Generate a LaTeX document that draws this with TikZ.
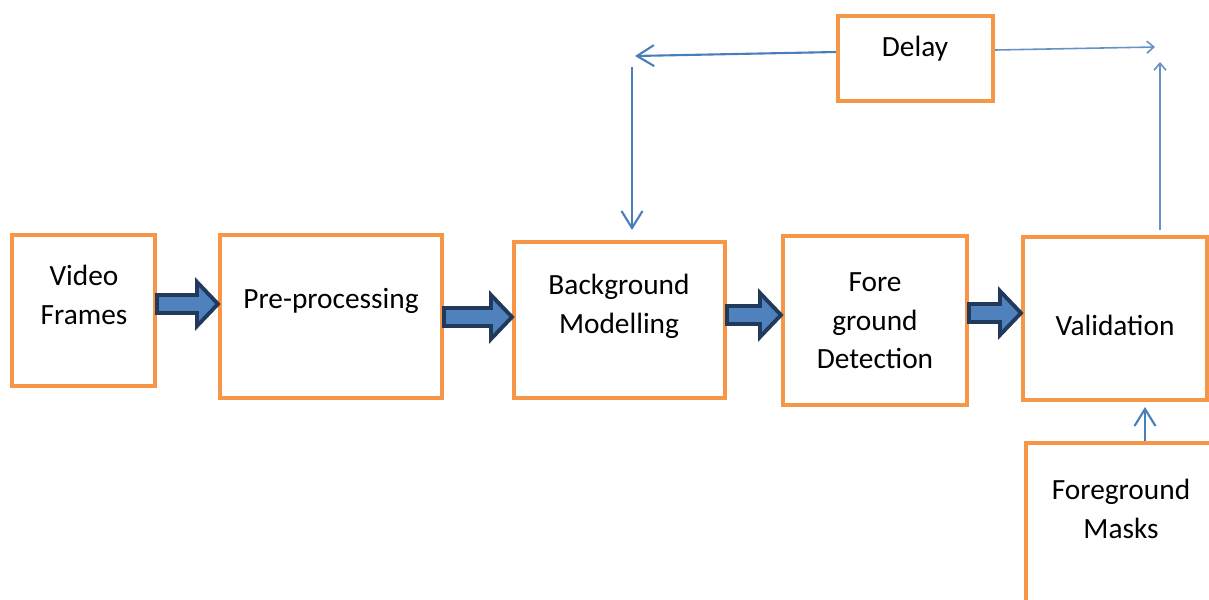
\documentclass[tikz,border=0pt]{standalone}
\usepackage{fontspec}
\setmainfont{Carlito}
\usepackage{xcolor}
\usepackage{tikz}
\usetikzlibrary{arrows.meta,positioning,calc}

\definecolor{boxorange}{HTML}{F79646}
\definecolor{arrowfill}{HTML}{4F81BD}
\definecolor{arrowdark}{HTML}{213A5C}
\definecolor{linkblue}{HTML}{4A7EBB}
\newcommand{\boxfont}{\fontsize{16.7}{22}\selectfont}

\tikzset{
  blockbox/.style={draw=boxorange,line width=2.3pt,inner sep=0pt},
  boxlabel/.style={align=center,font=\boxfont},
  fatarrow/.style={draw=arrowdark,fill=arrowfill,line width=2.2pt,line join=miter},
  thinarrow/.style={draw=linkblue,line width=1.2pt,-{Straight Barb[length=0.34cm,width=0.42cm,line width=1.2pt]}},
  smallarrow/.style={draw=linkblue!85,line width=0.9pt,-{Straight Barb[length=0.14cm,width=0.24cm,line width=0.9pt]}}
}

\newcommand{\blockarrow}[3]{%
  \draw[fatarrow] let \p1=(#1.east), \p2=(#2.west), \p3=(0,#3) in
    (\x1,\y3+0.18cm) -- (\x2-0.42cm,\y3+0.18cm) -- (\x2-0.42cm,\y3+0.44cm)
    -- (\x2,\y3) -- (\x2-0.42cm,\y3-0.44cm) -- (\x2-0.42cm,\y3-0.18cm)
    -- (\x1,\y3-0.18cm) -- cycle;}

\begin{document}
\begin{tikzpicture}[x=0.02cm,y=-0.02cm]
  \clip (0,0) rectangle (1209,599);

  \node[blockbox,minimum width=2.86cm,minimum height=3.02cm] (vidframes) at (83.5,310.5) {};
  \node[blockbox,minimum width=4.44cm,minimum height=3.26cm] (preproc) at (331,316.5) {};
  \node[blockbox,minimum width=4.22cm,minimum height=3.12cm] (bgmodel) at (619.5,320) {};
  \node[blockbox,minimum width=3.68cm,minimum height=3.38cm] (fgdetect) at (875,320.5) {};
  \node[blockbox,minimum width=3.68cm,minimum height=3.26cm] (valid) at (1115,318.5) {};
  \node[blockbox,minimum width=3.10cm,minimum height=1.70cm] (delay) at (915.5,58.5) {};
  \node[blockbox,minimum width=4.76cm,minimum height=4.40cm,anchor=north west] (fgmasks) at (1024,441) {};

  \node[boxlabel] (vidframes-txt) at (84,295) {Video\\Frames};
  \node[boxlabel] (preproc-txt) at (331,301) {Pre-processing};
  \node[boxlabel] (bgmodel-txt) at (619,306) {Background\\Modelling};
  \node[boxlabel] (fgdetect-txt) at (875,321) {Fore\\ground\\Detection};
  \node[boxlabel] (valid-txt) at (1115,325) {Validation};
  \node[boxlabel] (delay-txt) at (915,49) {Delay};
  \node[boxlabel] (fgmasks-txt) at (1121,509) {Foreground\\Masks};

  \blockarrow{vidframes}{preproc}{304}
  \blockarrow{preproc}{bgmodel}{317}
  \blockarrow{bgmodel}{fgdetect}{315}
  \blockarrow{fgdetect}{valid}{313}

  \coordinate (dleft) at (635,56);
  \coordinate (dtop) at (632,67);
  \coordinate (dright) at (1155,47);
  \coordinate (vtop) at (1160,62);

  \draw[thinarrow] ([yshift=0.13cm]delay.west) -- (dleft);
  \draw[thinarrow,shorten >=0.2cm] (dtop) -- (bgmodel.north -| dtop);
  \draw[smallarrow] ([yshift=0.17cm]delay.east) -- (dright);
  \draw[smallarrow,shorten <=0.1cm] (valid.north -| vtop) -- (vtop);
  \draw[thinarrow,shorten >=0.1cm] (fgmasks.north) -- (valid.south -| fgmasks.north);
\end{tikzpicture}
\end{document}
